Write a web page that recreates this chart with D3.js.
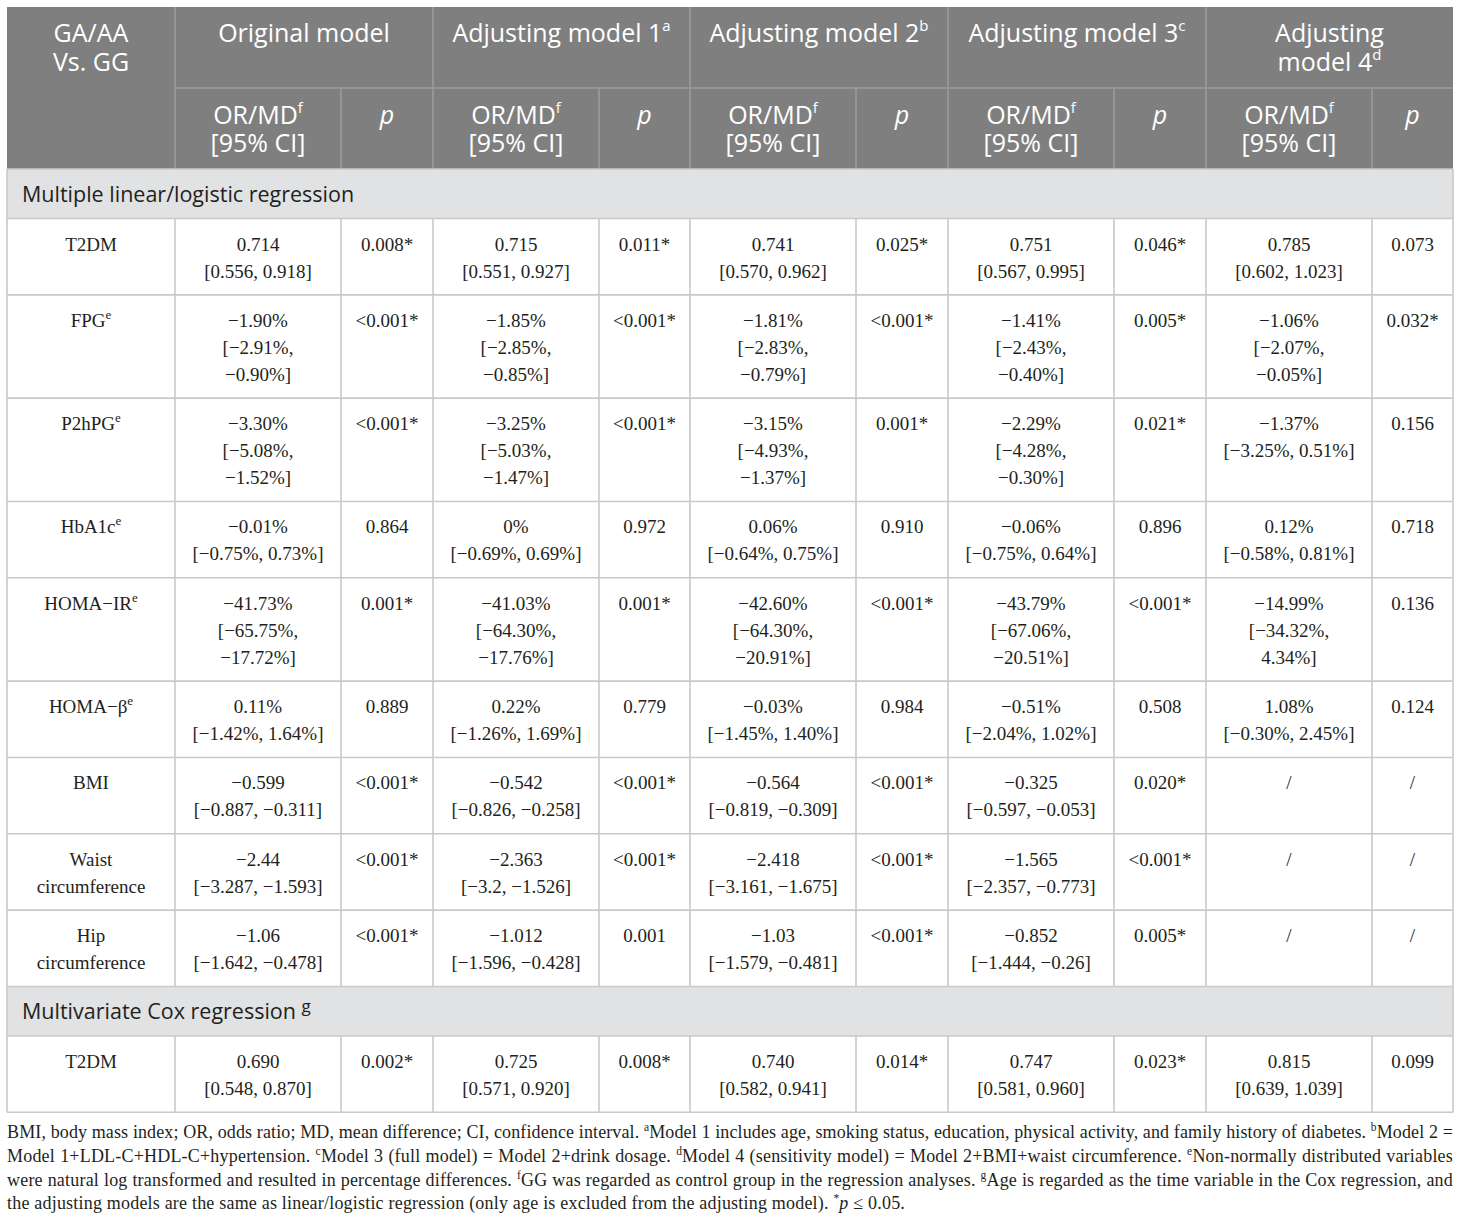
<!DOCTYPE html>
<html>
<head>
<meta charset="utf-8">
<script src="https://cdn.jsdelivr.net/npm/d3@7"></script>
<style>
  body { margin: 0; background: #fff; }
</style>
</head>
<body>
<svg id="table" width="1460" height="1223"></svg>
<script>
/********
 * Data *
 ********/

var modelNames = ["Original model", "Adjusting model 1", "Adjusting model 2", "Adjusting model 3", "Adjusting model 4"];
var modelSups = ["", "a", "b", "c", "d"];

var sectionNames = ["Multiple linear/logistic regression", "Multivariate Cox regression"];
var sectionSups = ["", "g"];

var rowLabels = ["T2DM", "FPG", "P2hPG", "HbA1c", "HOMA\u2212IR", "HOMA\u2212\u03b2", "BMI", "Waist\ncircumference", "Hip\ncircumference", "T2DM"];
var rowSups = ["", "e", "e", "e", "e", "e", "", "", "", ""];
var rowSection = [0, 0, 0, 0, 0, 0, 0, 0, 0, 1];

var origEst = ["0.714", "\u22121.90%", "\u22123.30%", "\u22120.01%", "\u221241.73%", "0.11%", "\u22120.599", "\u22122.44", "\u22121.06", "0.690"];
var origCI = ["[0.556, 0.918]", "[\u22122.91%, \u22120.90%]", "[\u22125.08%, \u22121.52%]", "[\u22120.75%, 0.73%]", "[\u221265.75%, \u221217.72%]", "[\u22121.42%, 1.64%]", "[\u22120.887, \u22120.311]", "[\u22123.287, \u22121.593]", "[\u22121.642, \u22120.478]", "[0.548, 0.870]"];
var origP = ["0.008*", "<0.001*", "<0.001*", "0.864", "0.001*", "0.889", "<0.001*", "<0.001*", "<0.001*", "0.002*"];

var m1Est = ["0.715", "\u22121.85%", "\u22123.25%", "0%", "\u221241.03%", "0.22%", "\u22120.542", "\u22122.363", "\u22121.012", "0.725"];
var m1CI = ["[0.551, 0.927]", "[\u22122.85%, \u22120.85%]", "[\u22125.03%, \u22121.47%]", "[\u22120.69%, 0.69%]", "[\u221264.30%, \u221217.76%]", "[\u22121.26%, 1.69%]", "[\u22120.826, \u22120.258]", "[\u22123.2, \u22121.526]", "[\u22121.596, \u22120.428]", "[0.571, 0.920]"];
var m1P = ["0.011*", "<0.001*", "<0.001*", "0.972", "0.001*", "0.779", "<0.001*", "<0.001*", "0.001", "0.008*"];

var m2Est = ["0.741", "\u22121.81%", "\u22123.15%", "0.06%", "\u221242.60%", "\u22120.03%", "\u22120.564", "\u22122.418", "\u22121.03", "0.740"];
var m2CI = ["[0.570, 0.962]", "[\u22122.83%, \u22120.79%]", "[\u22124.93%, \u22121.37%]", "[\u22120.64%, 0.75%]", "[\u221264.30%, \u221220.91%]", "[\u22121.45%, 1.40%]", "[\u22120.819, \u22120.309]", "[\u22123.161, \u22121.675]", "[\u22121.579, \u22120.481]", "[0.582, 0.941]"];
var m2P = ["0.025*", "<0.001*", "0.001*", "0.910", "<0.001*", "0.984", "<0.001*", "<0.001*", "<0.001*", "0.014*"];

var m3Est = ["0.751", "\u22121.41%", "\u22122.29%", "\u22120.06%", "\u221243.79%", "\u22120.51%", "\u22120.325", "\u22121.565", "\u22120.852", "0.747"];
var m3CI = ["[0.567, 0.995]", "[\u22122.43%, \u22120.40%]", "[\u22124.28%, \u22120.30%]", "[\u22120.75%, 0.64%]", "[\u221267.06%, \u221220.51%]", "[\u22122.04%, 1.02%]", "[\u22120.597, \u22120.053]", "[\u22122.357, \u22120.773]", "[\u22121.444, \u22120.26]", "[0.581, 0.960]"];
var m3P = ["0.046*", "0.005*", "0.021*", "0.896", "<0.001*", "0.508", "0.020*", "<0.001*", "0.005*", "0.023*"];

var m4Est = ["0.785", "\u22121.06%", "\u22121.37%", "0.12%", "\u221214.99%", "1.08%", "/", "/", "/", "0.815"];
var m4CI = ["[0.602, 1.023]", "[\u22122.07%, \u22120.05%]", "[\u22123.25%, 0.51%]", "[\u22120.58%, 0.81%]", "[\u221234.32%, 4.34%]", "[\u22120.30%, 2.45%]", "", "", "", "[0.639, 1.039]"];
var m4P = ["0.073", "0.032*", "0.156", "0.718", "0.136", "0.124", "/", "/", "/", "0.099"];

var allEst = [origEst, m1Est, m2Est, m3Est, m4Est];
var allCI = [origCI, m1CI, m2CI, m3CI, m4CI];
var allP = [origP, m1P, m2P, m3P, m4P];

// ^x = superscript char, ~..~ = italic
var footLines = [
  "BMI, body mass index; OR, odds ratio; MD, mean difference; CI, confidence interval. ^aModel 1 includes age, smoking status, education, physical activity, and family history of diabetes. ^bModel 2 =",
  "Model 1+LDL-C+HDL-C+hypertension. ^cModel 3 (full model) = Model 2+drink dosage. ^dModel 4 (sensitivity model) = Model 2+BMI+waist circumference. ^eNon-normally distributed variables",
  "were natural log transformed and resulted in percentage differences. ^fGG was regarded as control group in the regression analyses. ^gAge is regarded as the time variable in the Cox regression, and",
  "the adjusting models are the same as linear/logistic regression (only age is excluded from the adjusting model). ^*~p~ \u2264 0.05."
];

/**********
 * Layout *
 **********/

var left = 7, right = 1453, top0 = 7;
var colKeys = ["label", "e0", "p0", "e1", "p1", "e2", "p2", "e3", "p3", "e4", "p4"];
var colWidths = [168, 166, 92, 166, 91, 166, 92, 166, 92, 166, 81];
var colEdges = [left].concat(Array.from(d3.cumsum(colWidths), function(v) { return left + v; }));

var x = d3.scaleOrdinal().domain(colKeys).range(colEdges.slice(0, -1));
var w = d3.scaleOrdinal().domain(colKeys).range(colWidths);

var serif = "'Liberation Serif', 'Times New Roman', serif";
var sans = "'Open Sans', 'Noto Sans', sans-serif";
var bodySize = 19, linePitch = 27;
var gridColor = "#c9c9c9", headBg = "#7f7f7f", headLine = "#9d9d9d", sectBg = "#e1e2e4";
var textColor = "#231f20";

var svg = d3.select("#table");

// measure helper
var meas = svg.append("text").attr("font-family", serif).attr("font-size", bodySize).attr("opacity", 0);
function textW(s) { meas.text(s); return meas.node().getComputedTextLength(); }

function ciLines(s, width) {
  if (!s) return [];
  if (textW(s) <= width - 30) return [s];
  var i = s.indexOf(", ");
  return [s.slice(0, i + 1), s.slice(i + 2)];
}

// build row cell content
var rows = rowLabels.map(function(lab, i) {
  var cells = modelNames.map(function(m, k) {
    return { key: "e" + k, lines: [allEst[k][i]].concat(ciLines(allCI[k][i], colWidths[1 + 2 * k])) };
  });
  var pCells = modelNames.map(function(m, k) { return { key: "p" + k, lines: [allP[k][i]] }; });
  var labLines = lab.split("\n");
  var n = d3.max(cells, function(c) { return c.lines.length; });
  n = Math.max(n, labLines.length);
  return { label: labLines, sup: rowSups[i], section: rowSection[i], cells: cells.concat(pCells), n: n };
});
meas.remove();

// vertical stacking
var headH = 81, sectH = 49.5;
var items = [];
var yy = top0 + headH * 2;
rows.forEach(function(r, i) {
  if (i === 0 || r.section !== rows[i - 1].section) {
    items.push({ type: "section", idx: r.section, y: yy, h: sectH });
    yy += sectH;
  }
  var h = 22.33 + linePitch * r.n;
  items.push({ type: "row", row: r, y: yy, h: h });
  yy += h;
});
var tableBottom = yy;

/**********
 * Header *
 **********/

svg.append("rect").attr("x", left).attr("y", top0).attr("width", right - left).attr("height", headH * 2).attr("fill", headBg);

var head = svg.append("g").attr("font-family", sans).attr("fill", "#fff").attr("font-size", 25).attr("text-anchor", "middle");

// header lines
head.append("line").attr("x1", x("e0")).attr("x2", right).attr("y1", top0 + headH).attr("y2", top0 + headH)
  .attr("stroke", headLine).attr("stroke-width", 1.5);
modelNames.forEach(function(m, k) {
  head.append("line").attr("x1", x("e" + k)).attr("x2", x("e" + k)).attr("y1", top0).attr("y2", top0 + 2 * headH)
    .attr("stroke", headLine).attr("stroke-width", 1.5);
  head.append("line").attr("x1", x("p" + k)).attr("x2", x("p" + k)).attr("y1", top0 + headH).attr("y2", top0 + 2 * headH)
    .attr("stroke", headLine).attr("stroke-width", 1.5);
});

var cx = function(k) { return x(k) + w(k) / 2; };

var t = head.append("text").attr("x", cx("label")).attr("y", 42);
t.append("tspan").attr("x", cx("label")).text("GA/AA");
t.append("tspan").attr("x", cx("label")).attr("dy", 29).text("Vs. GG");

modelNames.forEach(function(m, k) {
  var mx = x("e" + k) + (w("e" + k) + w("p" + k)) / 2;
  var tt = head.append("text").attr("x", mx).attr("y", 42);
  if (w("e" + k) + w("p" + k) < 250) {
    var parts = m.split(" ");
    tt.append("tspan").attr("x", mx).text(parts[0]);
    tt.append("tspan").attr("x", mx).attr("dy", 29).text(parts.slice(1).join(" "));
  } else {
    tt.append("tspan").text(m);
  }
  tt.append("tspan").attr("font-size", 15).attr("dy", -11).text(modelSups[k]);

  var ox = cx("e" + k);
  var o = head.append("text").attr("x", ox).attr("y", 124);
  o.append("tspan").text("OR/MD");
  o.append("tspan").attr("font-size", 15).attr("dy", -11).text("f");
  head.append("text").attr("x", ox).attr("y", 152).text("[95% CI]");
  head.append("text").attr("x", cx("p" + k)).attr("y", 124).attr("font-style", "italic").text("p");
});

/********
 * Body *
 ********/

var body = svg.append("g");

items.forEach(function(it) {
  if (it.type === "section") {
    body.append("rect").attr("x", left).attr("y", it.y).attr("width", right - left).attr("height", it.h).attr("fill", sectBg);
    var st = body.append("text").attr("x", left + 15).attr("y", it.y + it.h / 2 + 8)
      .attr("font-family", sans).attr("font-size", 21.5).attr("fill", textColor);
    st.append("tspan").text(sectionNames[it.idx] + (sectionSups[it.idx] ? " " : ""));
    st.append("tspan").attr("font-size", 17).attr("dy", -7).text(sectionSups[it.idx]);
    return;
  }
  var r = it.row;
  // vertical cell lines
  colEdges.slice(1, -1).forEach(function(ex) {
    body.append("line").attr("x1", ex).attr("x2", ex).attr("y1", it.y).attr("y2", it.y + it.h)
      .attr("stroke", gridColor).attr("stroke-width", 1.6);
  });
  var g = body.append("g").attr("font-family", serif).attr("font-size", bodySize).attr("fill", textColor).attr("text-anchor", "middle");
  var lt = g.append("text").attr("y", it.y + 32);
  r.label.forEach(function(s, j) {
    lt.append("tspan").attr("x", cx("label")).attr("dy", j ? linePitch : 0).text(s);
  });
  if (r.sup) lt.append("tspan").attr("font-size", 13).attr("dy", -8).text(r.sup);
  r.cells.forEach(function(c) {
    var ct = g.append("text").attr("y", it.y + 32);
    c.lines.forEach(function(s, j) {
      ct.append("tspan").attr("x", cx(c.key)).attr("dy", j ? linePitch : 0).text(s);
    });
  });
});

// horizontal grid lines and outer border
var hLines = [top0 + 2 * headH].concat(items.map(function(it) { return it.y + it.h; }));
hLines.forEach(function(hy) {
  body.append("line").attr("x1", left).attr("x2", right).attr("y1", hy).attr("y2", hy)
    .attr("stroke", gridColor).attr("stroke-width", 1.6);
});
[left, right].forEach(function(ex) {
  body.append("line").attr("x1", ex).attr("x2", ex).attr("y1", top0 + 2 * headH).attr("y2", tableBottom)
    .attr("stroke", gridColor).attr("stroke-width", 1.6);
});

/*************
 * Footnotes *
 *************/

var foot = svg.append("g").attr("font-family", serif).attr("font-size", 18).attr("fill", textColor)
  .style("letter-spacing", "0.2px");
footLines.forEach(function(line, i) {
  var ft = foot.append("text").attr("x", left).attr("y", tableBottom + 26 + i * 23.6);
  var parts = line.split(/(\^.|~[^~]+~)/).filter(function(s) { return s.length; });
  var shifted = false;
  parts.forEach(function(p) {
    var ts = ft.append("tspan");
    var dy = 0;
    if (p[0] === "^") {
      ts.attr("font-size", 11.5).text(p.slice(1));
      dy = -7; shifted = true;
    } else {
      if (shifted) { dy = 7; shifted = false; }
      if (p[0] === "~") ts.attr("font-style", "italic").text(p.slice(1, -1));
      else ts.text(p);
    }
    if (dy) ts.attr("dy", dy);
  });
  if (i < footLines.length - 1) {
    var natural = ft.node().getComputedTextLength();
    var spaces = (line.match(/ /g) || []).length;
    if (natural < right - left) {
      ft.style("word-spacing", ((right - left - natural) / spaces) + "px");
    } else {
      ft.attr("textLength", right - left).attr("lengthAdjust", "spacing");
    }
  }
});
</script>
</body>
</html>
